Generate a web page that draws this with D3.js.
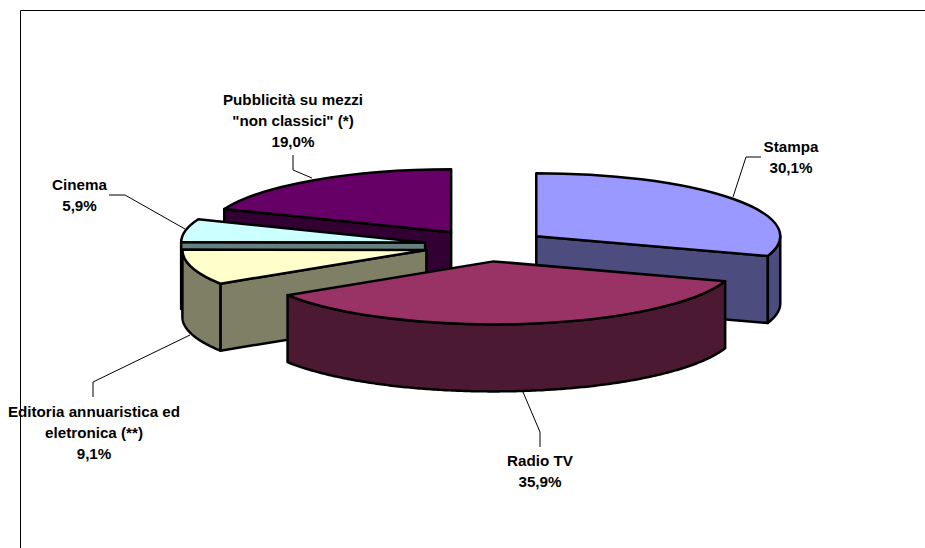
<!DOCTYPE html>
<html>
<head>
<meta charset="utf-8">
<script src="https://cdn.jsdelivr.net/npm/d3@7"></script>
<style>
  html, body { margin: 0; padding: 0; background: #fff; }
  svg { display: block; }
  text { font-family: "Liberation Sans", Arial, sans-serif; font-weight: bold; font-size: 15.2px; fill: #000; }
</style>
</head>
<body>
<svg id="chart" width="925" height="548"></svg>
<script>
// slices, clockwise from 12 o'clock
var categories = ["Stampa", "Radio TV", "Editoria annuaristica ed eletronica (**)", "Cinema", "Pubblicità su mezzi \"non classici\" (*)"];
var values = [30.1, 35.9, 9.1, 5.9, 19.0];
var valueLabels = ["30,1%", "35,9%", "9,1%", "5,9%", "19,0%"];
var labelLines = [["Stampa"], ["Radio TV"], ["Editoria annuaristica ed", "eletronica (**)"], ["Cinema"], ["Pubblicità su mezzi", "\"non classici\" (*)"]];
var topColors = ["#9999ff", "#993366", "#ffffcc", "#ccffff", "#660066"];
var sideColors = ["#4c4c7f", "#4c1933", "#7f7f66", "#667f7f", "#330033"];

// label centres and leader lines
var labelPos = [[791, 146], [540, 460], [94, 411], [79.5, 184], [293, 99]];
var leaders = [
  [[761, 157], [746, 157], [733, 197]],
  [[523, 392], [540, 432], [540, 447]],
  [[190, 335], [93, 382], [93, 397]],
  [[185, 229], [125, 195], [109, 195]],
  [[312, 178], [293, 170], [293, 155]]
];

var svg = d3.select("#chart");

var cx = 486, cy = 245.5, rx = 244, ry = 63, depth = 67, explode = 62;
var squash = ry / rx;

// frame
svg.append("path")
  .attr("d", "M20.5,548V10.5H925")
  .attr("fill", "none")
  .attr("stroke", "#000")
  .attr("stroke-width", 1);

var pie = d3.pie().sort(null).value(function(d){ return d; });
var slices = pie(values);
var arc = d3.arc().innerRadius(0).outerRadius(rx);
var line = d3.line();

function apex(s){
  var mid = (s.startAngle + s.endAngle) / 2;
  return [cx + explode * Math.sin(mid), cy - explode * squash * Math.cos(mid)];
}
function rimPoint(a, t){
  return [a[0] + rx * Math.sin(t), a[1] - ry * Math.cos(t)];
}
function dropped(p){
  return [p[0], p[1] + depth];
}

var sideStyle = function(sel, i){
  sel.attr("fill", sideColors[i])
    .attr("stroke", "#000")
    .attr("stroke-width", 2.5)
    .attr("stroke-linejoin", "round");
};

// back to front so the exploded slices cover each other
var drawOrder = [4, 3, 2, 0, 1];
drawOrder.forEach(function(i){
  var s = slices[i];
  var a = apex(s);
  var g = svg.append("g");

  // cut face that looks at the viewer
  var faceAngle = s.startAngle >= Math.PI ? s.startAngle : (s.endAngle <= Math.PI ? s.endAngle : null);
  if (faceAngle !== null) {
    var p = rimPoint(a, faceAngle);
    g.append("path")
      .attr("d", line([a, p, dropped(p), dropped(a)]) + "Z")
      .call(sideStyle, i);
  }

  // outer wall, only the front half of the ellipse shows
  var from = Math.max(s.startAngle, Math.PI / 2);
  var to = Math.min(s.endAngle, Math.PI * 1.5);
  if (to > from) {
    var angles = d3.range(from, to, 0.01).concat([to]);
    var upper = angles.map(function(t){ return rimPoint(a, t); });
    var lower = upper.map(dropped).reverse();
    g.append("path")
      .attr("d", line(upper.concat(lower)) + "Z")
      .call(sideStyle, i);
  }

  // top face
  g.append("path")
    .attr("d", arc(s))
    .attr("transform", "translate(" + a[0] + "," + a[1] + ") scale(1," + squash + ")")
    .attr("fill", topColors[i])
    .attr("stroke", "#000")
    .attr("stroke-width", 2.5)
    .attr("stroke-linejoin", "round")
    .attr("vector-effect", "non-scaling-stroke");
});

// leader lines
svg.append("g").selectAll("path")
  .data(leaders)
  .enter()
  .append("path")
  .attr("d", function(d){ return line(d); })
  .attr("fill", "none")
  .attr("stroke", "#000")
  .attr("stroke-width", 1);

// labels
var labels = svg.append("g").selectAll("text")
  .data(categories)
  .enter()
  .append("text")
  .attr("text-anchor", "middle")
  .attr("x", function(d, i){ return labelPos[i][0]; })
  .attr("y", function(d, i){ return labelPos[i][1] + 6; });

labels.each(function(d, i){
  var el = d3.select(this);
  labelLines[i].concat([valueLabels[i]]).forEach(function(t, k){
    el.append("tspan")
      .attr("x", labelPos[i][0])
      .attr("dy", k === 0 ? 0 : 21)
      .text(t);
  });
});
</script>
</body>
</html>
